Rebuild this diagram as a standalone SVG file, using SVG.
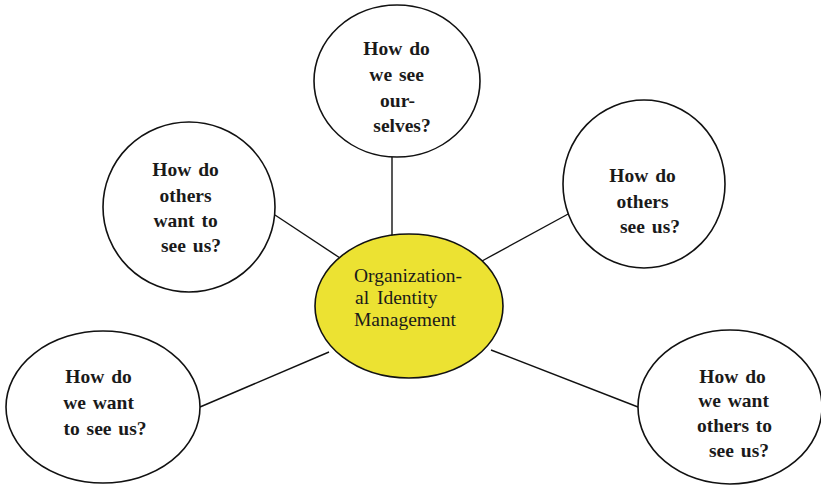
<svg xmlns="http://www.w3.org/2000/svg" width="821" height="485" viewBox="0 0 821 485">
  <style>
    .bubble { fill: #ffffff; stroke: #111111; stroke-width: 1.6; }
    .hub { fill: #ece232; stroke: #111111; stroke-width: 1.6; }
    .link { stroke: #111111; stroke-width: 1.4; fill: none; }
    .q { font-family: "Liberation Serif", "Times New Roman", serif; font-weight: bold; font-size: 19.5px; fill: #1a1a1a; text-anchor: middle; word-spacing: 2px; }
    .hubtext { font-family: "Liberation Serif", "Times New Roman", serif; font-size: 19.5px; fill: #1a1a1a; word-spacing: 3px; }
  </style>
  <rect width="821" height="485" fill="#ffffff"/>

  <!-- spokes from the hub to each question -->
  <g id="connectors">
    <line class="link" x1="392" y1="157" x2="392" y2="236"/>
    <line class="link" x1="275" y1="215" x2="340" y2="258"/>
    <line class="link" x1="570" y1="213" x2="482" y2="261"/>
    <line class="link" x1="200" y1="407" x2="329" y2="352"/>
    <line class="link" x1="638" y1="407" x2="491" y2="350"/>
  </g>

  <g id="hub">
    <ellipse class="hub" cx="409" cy="306" rx="94" ry="72"/>
    <text class="hubtext">
      <tspan x="354" y="282">Organization-</tspan>
      <tspan x="355" y="304">al Identity</tspan>
      <tspan x="354" y="326">Management</tspan>
    </text>
  </g>

  <g id="see-ourselves">
    <ellipse class="bubble" cx="397" cy="81" rx="83" ry="76"/>
    <text class="q">
      <tspan x="400" y="55">How do</tspan>
      <tspan x="400" y="81">we see</tspan>
      <tspan x="401" y="107">our-</tspan>
      <tspan x="402" y="132">selves?</tspan>
    </text>
  </g>

  <g id="others-want">
    <ellipse class="bubble" cx="189" cy="207" rx="86" ry="85"/>
    <text class="q">
      <tspan x="189" y="176">How do</tspan>
      <tspan x="189" y="202">others</tspan>
      <tspan x="189" y="227">want to</tspan>
      <tspan x="191" y="252">see us?</tspan>
    </text>
  </g>

  <g id="others-see">
    <ellipse class="bubble" cx="644" cy="184" rx="81" ry="84"/>
    <text class="q">
      <tspan x="646" y="182">How do</tspan>
      <tspan x="646" y="208">others</tspan>
      <tspan x="650" y="233">see us?</tspan>
    </text>
  </g>

  <g id="we-want">
    <ellipse class="bubble" cx="103" cy="407" rx="97" ry="76"/>
    <text class="q">
      <tspan x="102" y="383">How do</tspan>
      <tspan x="102" y="409">we want</tspan>
      <tspan x="105" y="435">to see us?</tspan>
    </text>
  </g>

  <g id="we-want-others">
    <ellipse class="bubble" cx="730" cy="407" rx="92" ry="77"/>
    <text class="q">
      <tspan x="736" y="383">How do</tspan>
      <tspan x="737" y="407">we want</tspan>
      <tspan x="738" y="432">others to</tspan>
      <tspan x="739" y="457">see us?</tspan>
    </text>
  </g>
</svg>
